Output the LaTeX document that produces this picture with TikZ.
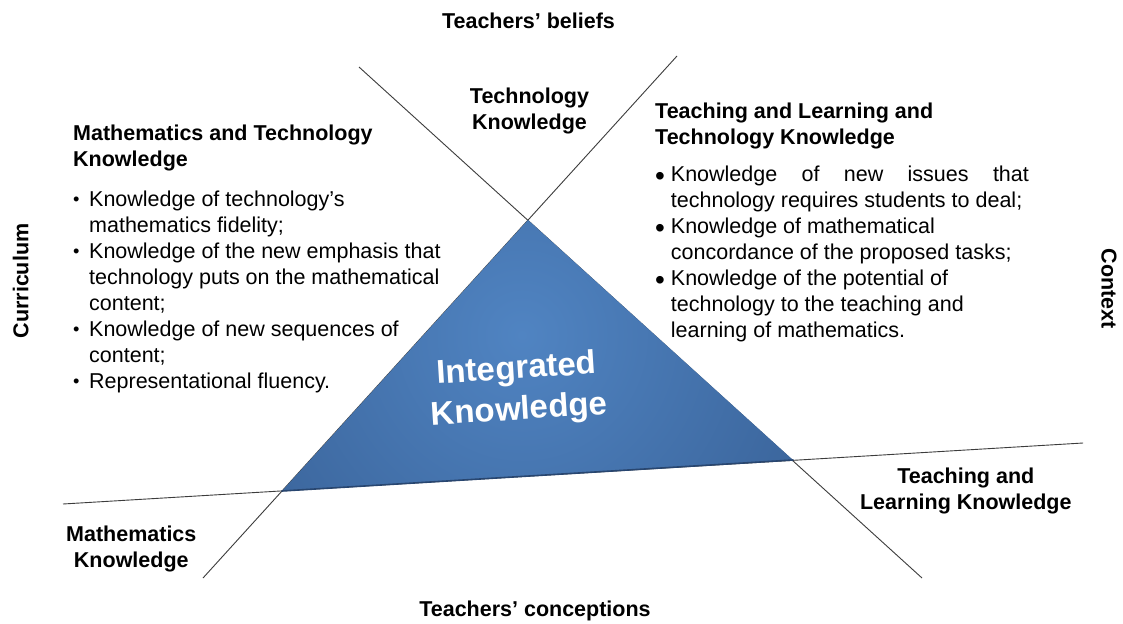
\documentclass[tikz,border=0pt]{standalone}
\usepackage{fontspec}
\setmainfont{Liberation Sans}
\usetikzlibrary{calc}
\definecolor{linegray}{HTML}{3C3C3C}
\definecolor{triin}{RGB}{80,132,194}
\definecolor{triout}{RGB}{57,98,152}
\definecolor{triedge}{RGB}{40,70,112}
\newcommand{\lbul}{\makebox[16pt][l]{\raisebox{1.5pt}{\scalebox{0.85}{•}}}}
\newcommand{\rbul}{\makebox[15.7pt][l]{\raisebox{-3.4pt}{\scalebox{1.3}{•}}}}
\begin{document}
\begin{tikzpicture}[x=1pt,y=-1pt,
  txt/.style={font=\fontsize{21.5}{26}\selectfont, inner sep=0pt},
  lbl/.style={txt, font=\fontsize{21.5}{26}\selectfont\bfseries, anchor=base},
  body/.style={txt, anchor=base west},
  divider/.style={draw=linegray, line width=0.9pt}]
\useasboundingbox (0,0) rectangle (1123,623);
\fill[white] (0,0) rectangle (1123,623);

% line end points and triangle corners
\coordinate (A1) at (359,67);  \coordinate (A2) at (922,578);
\coordinate (B1) at (677,56);  \coordinate (B2) at (203,578);
\coordinate (C1) at (63,504);  \coordinate (C2) at (1083,443);
\coordinate (T) at (528,220);  \coordinate (L) at (282,491);  \coordinate (R) at (793,460);

% dividing lines
\draw[divider] (A1) -- (A2);
\draw[divider] (B1) -- (B2);
\draw[divider] (C1) -- (C2);

% triangle
\begin{scope}
  \clip (T) -- (L) -- (R) -- cycle;
  \shade[inner color=triin, outer color=triout] (522,335) circle (340pt);
\end{scope}
\draw[triedge, line width=1.6pt, line cap=round] (L) -- (R);

\node[txt, font=\fontsize{33}{41}\selectfont\bfseries, text=white, rotate=3.6] (ik) at (518,391)
  {\begin{tabular}{@{}c@{}}Integrated\\Knowledge\end{tabular}};

% outer labels
\node[lbl] (beliefs) at (528.5,28.3) {Teachers’ beliefs};
\node[lbl] (concep) at (535,616.7) {Teachers’ conceptions};
\node[lbl, rotate=90] (curr) at (28.3,281) {Curriculum};
\node[lbl, rotate=-90] (ctx) at (1101.7,289) {Context};

% region labels
\node[lbl] (tk) at (529.5,103.3) {\begin{tabular}[t]{@{}c@{}}Technology\\Knowledge\end{tabular}};
\node[lbl] (mk) at (131.3,541.7) {\begin{tabular}[t]{@{}c@{}}Mathematics\\Knowledge\end{tabular}};
\node[lbl] (tlk) at (965.8,483.3) {\begin{tabular}[t]{@{}c@{}}Teaching and\\Learning Knowledge\end{tabular}};

% left block
\node[body, font=\fontsize{21.5}{26}\selectfont\bfseries] (mtkh) at (73,140.7)
  {\begin{tabular}[t]{@{}l@{}}Mathematics and Technology\\Knowledge\end{tabular}};
\node[body] (mtkl) at (73,206.7)
  {\begin{tabular}[t]{@{}l@{}l@{}}
   \lbul & Knowledge of technology’s\\
         & mathematics fidelity;\\
   \lbul & Knowledge of the new emphasis that\\
         & technology puts on the mathematical\\
         & content;\\
   \lbul & Knowledge of new sequences of\\
         & content;\\
   \lbul & Representational fluency.
  \end{tabular}};

% right block
\node[body, font=\fontsize{21.5}{26}\selectfont\bfseries] (tltkh) at (655,118.3)
  {\begin{tabular}[t]{@{}l@{}}Teaching and Learning and\\Technology Knowledge\end{tabular}};
\node[body] (tltkl) at (655,181.7)
  {\begin{tabular}[t]{@{}l@{}l@{}}
   \rbul & \hbox to 358pt{Knowledge\hfill of\hfill new\hfill issues\hfill that}\\
         & technology requires students to deal;\\
   \rbul & Knowledge of mathematical\\
         & concordance of the proposed tasks;\\
   \rbul & Knowledge of the potential of\\
         & technology to the teaching and\\
         & learning of mathematics.
  \end{tabular}};
\end{tikzpicture}
\end{document}
